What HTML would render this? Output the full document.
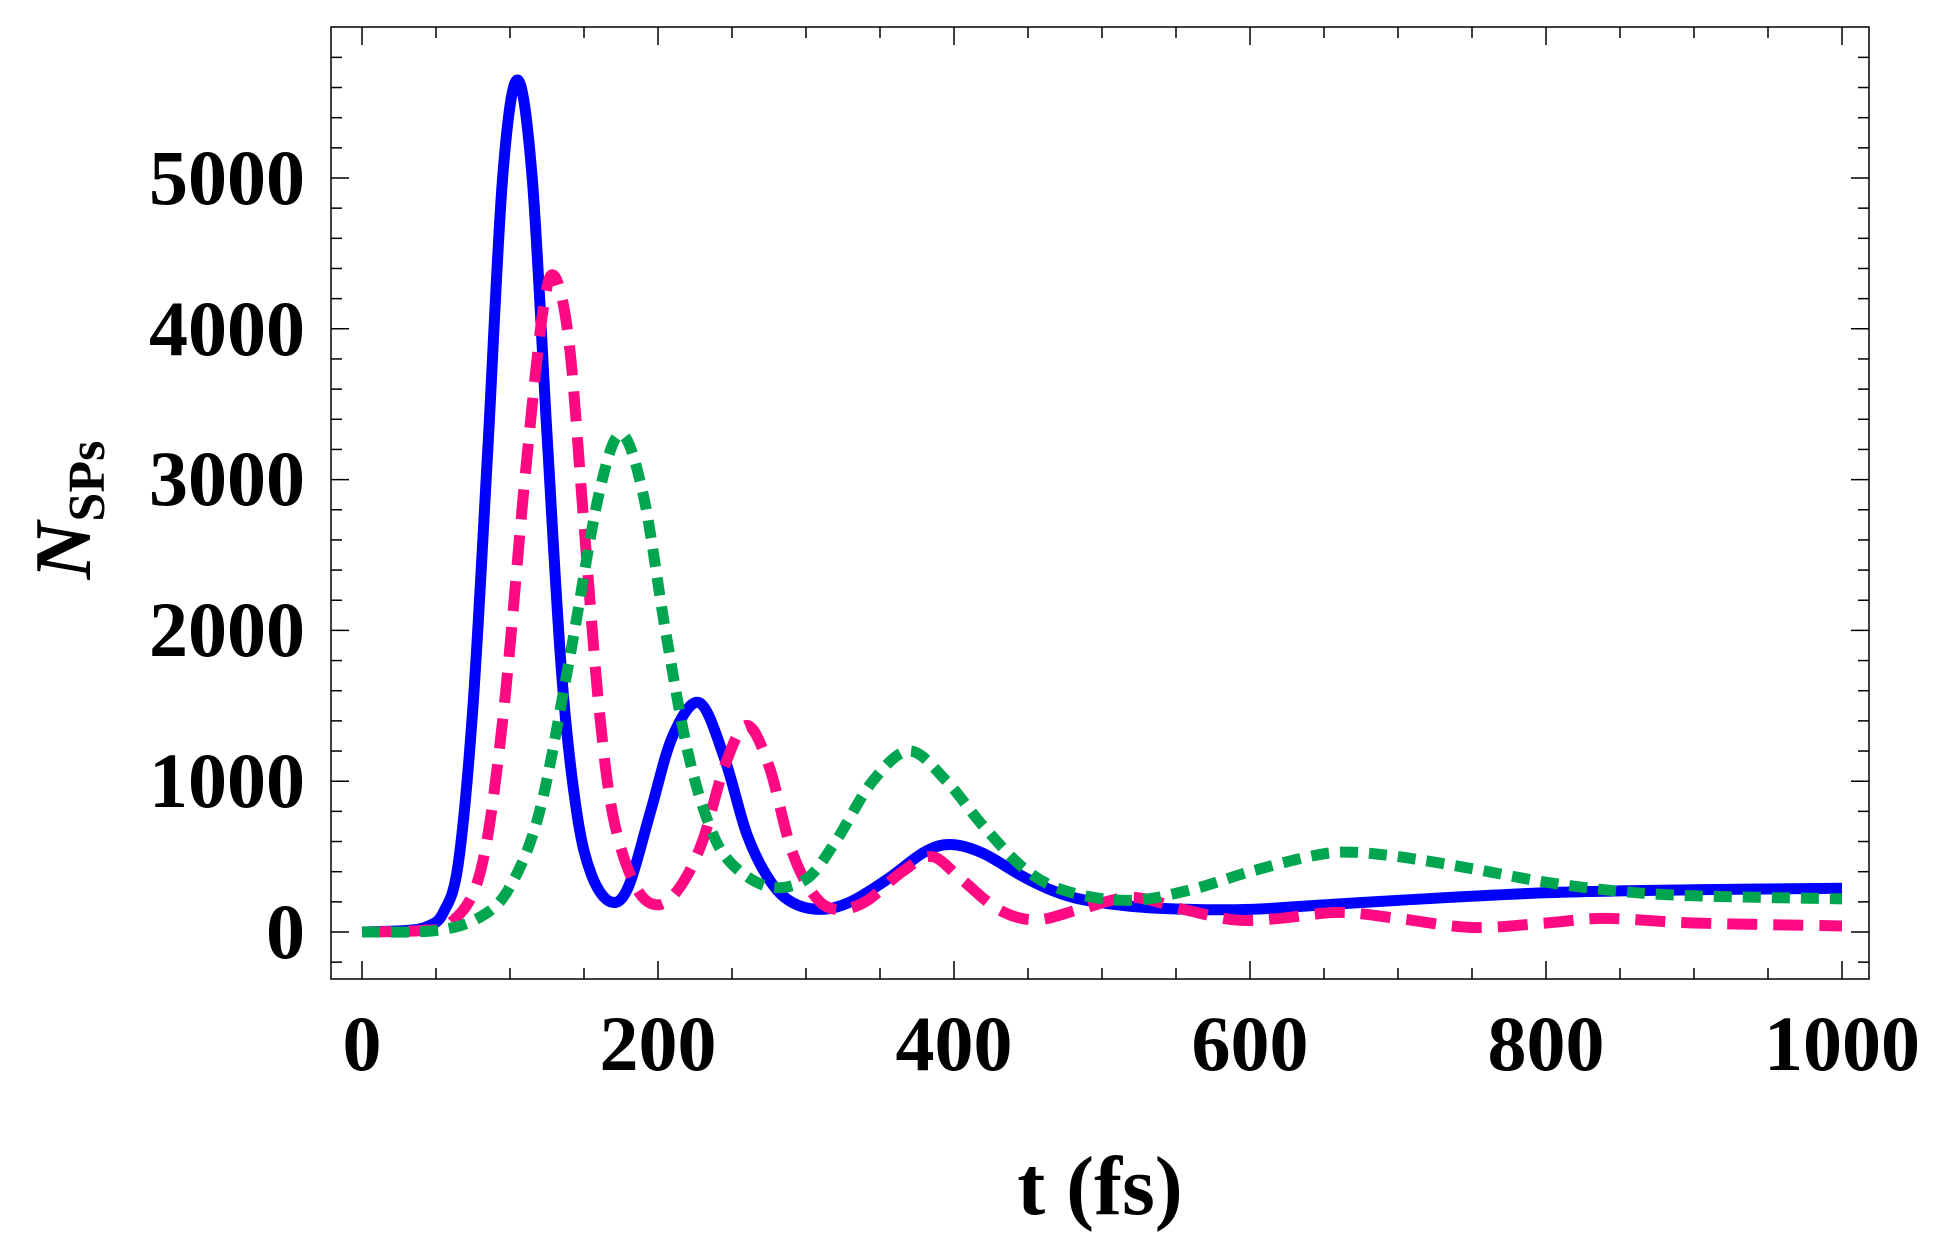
<!DOCTYPE html>
<html><head><meta charset="utf-8"><style>
html,body{margin:0;padding:0;background:#fff;}
svg{display:block;}
text{font-family:"Liberation Serif",serif;font-weight:bold;fill:#000;}
</style></head><body>
<svg id="s" width="1938" height="1251" viewBox="0 0 1938 1251" xmlns="http://www.w3.org/2000/svg">
<rect x="331" y="27" width="1538" height="952" fill="none" stroke="#000" stroke-width="1.5"/>
<g id="ticks" stroke="#000" stroke-width="1.5"></g>
<g id="curves" fill="none"></g>
<g font-size="78" text-anchor="end">
<text x="305" y="958">0</text>
<text x="305" y="807">1000</text>
<text x="305" y="656">2000</text>
<text x="305" y="505">3000</text>
<text x="305" y="355">4000</text>
<text x="305" y="204">5000</text>
</g>
<g font-size="78" text-anchor="middle">
<text x="362" y="1070">0</text>
<text x="658" y="1070">200</text>
<text x="954" y="1070">400</text>
<text x="1250" y="1070">600</text>
<text x="1546" y="1070">800</text>
<text x="1842" y="1070">1000</text>
<text x="1100" y="1214" font-size="84">t (fs)</text>
</g>
<text transform="translate(90,510) rotate(-90)" font-size="80" text-anchor="middle"><tspan font-style="italic">N</tspan><tspan font-size="52" dy="14">SPs</tspan></text>
</svg>
<script>
var X=function(t){return 362+t*1.48;}, Y=function(n){return 932-n*0.1508;};
var tk=document.getElementById('ticks'),h='';
for(var t=0;t<=1000;t+=50){var x=X(t),L=(t%200==0)?18:11;h+='<line x1="'+x+'" y1="979" x2="'+x+'" y2="'+(979-L)+'"/><line x1="'+x+'" y1="27" x2="'+x+'" y2="'+(27+L)+'"/>';}
for(var n=-200;n<=5800;n+=200){var y=Y(n);if(y<28||y>978)continue;var L=(n%1000==0)?18:11;h+='<line x1="331" y1="'+y+'" x2="'+(331+L)+'" y2="'+y+'"/><line x1="1869" y1="'+y+'" x2="'+(1869-L)+'" y2="'+y+'"/>';}
tk.innerHTML=h;
function path(p){var q=p.map(function(a){return [X(a[0]),Y(a[1])];});var d='M'+q[0][0]+','+q[0][1];
for(var i=0;i<q.length-1;i++){var p0=q[i-1]||q[i],p1=q[i],p2=q[i+1],p3=q[i+2]||q[i+1];
d+=' C'+(p1[0]+(p2[0]-p0[0])/6)+','+(p1[1]+(p2[1]-p0[1])/6)+' '+(p2[0]-(p3[0]-p1[0])/6)+','+(p2[1]-(p3[1]-p1[1])/6)+' '+p2[0]+','+p2[1];}return d;}
var blue=[[0,0],[30,10],[45,40],[55,130],[65,450],[75,1500],[85,3200],[95,5000],[105,5650],[115,5000],[125,3300],[135,1700],[145,800],[155,380],[168,200],[180,300],[195,800],[210,1300],[228,1520],[245,1150],[260,650],[275,350],[290,200],[310,150],[330,200],[355,350],[380,530],[398,580],[420,520],[450,350],[480,230],[520,170],[560,150],[600,150],[650,180],[700,210],[800,260],[900,280],[1000,290]];
var pink=[[0,0],[40,10],[60,60],[80,400],[95,1400],[110,3000],[122,4100],[130,4350],[140,3900],[150,2700],[160,1500],[170,750],[185,300],[200,180],[215,300],[230,600],[245,1100],[260,1370],[275,1100],[290,550],[305,250],[320,150],[340,200],[365,400],[385,500],[405,350],[430,150],[455,80],[485,150],[520,230],[555,150],[590,80],[620,90],[660,130],[700,90],[750,30],[800,60],[840,90],[900,60],[1000,40]];
var green=[[0,0],[50,10],[80,100],[100,300],[120,800],[140,1800],[160,2900],[175,3300],[190,2900],[205,2000],[220,1200],[235,700],[250,450],[275,300],[300,350],[320,600],[345,1000],[370,1200],[395,1000],[420,700],[450,400],[480,260],[520,210],[560,280],[600,400],[640,500],[665,530],[700,500],[750,420],[800,330],[850,270],[900,240],[1000,220]];
document.getElementById('curves').innerHTML=
'<path d="'+path(blue)+'" stroke="#0000ff" stroke-width="11" stroke-linejoin="round"/>'+
'<path d="'+path(pink)+'" stroke="#ff0a82" stroke-width="11" stroke-dasharray="30 16"/>'+
'<path d="'+path(green)+'" stroke="#00a550" stroke-width="11" stroke-dasharray="18 11"/>';
</script>
</body></html>
